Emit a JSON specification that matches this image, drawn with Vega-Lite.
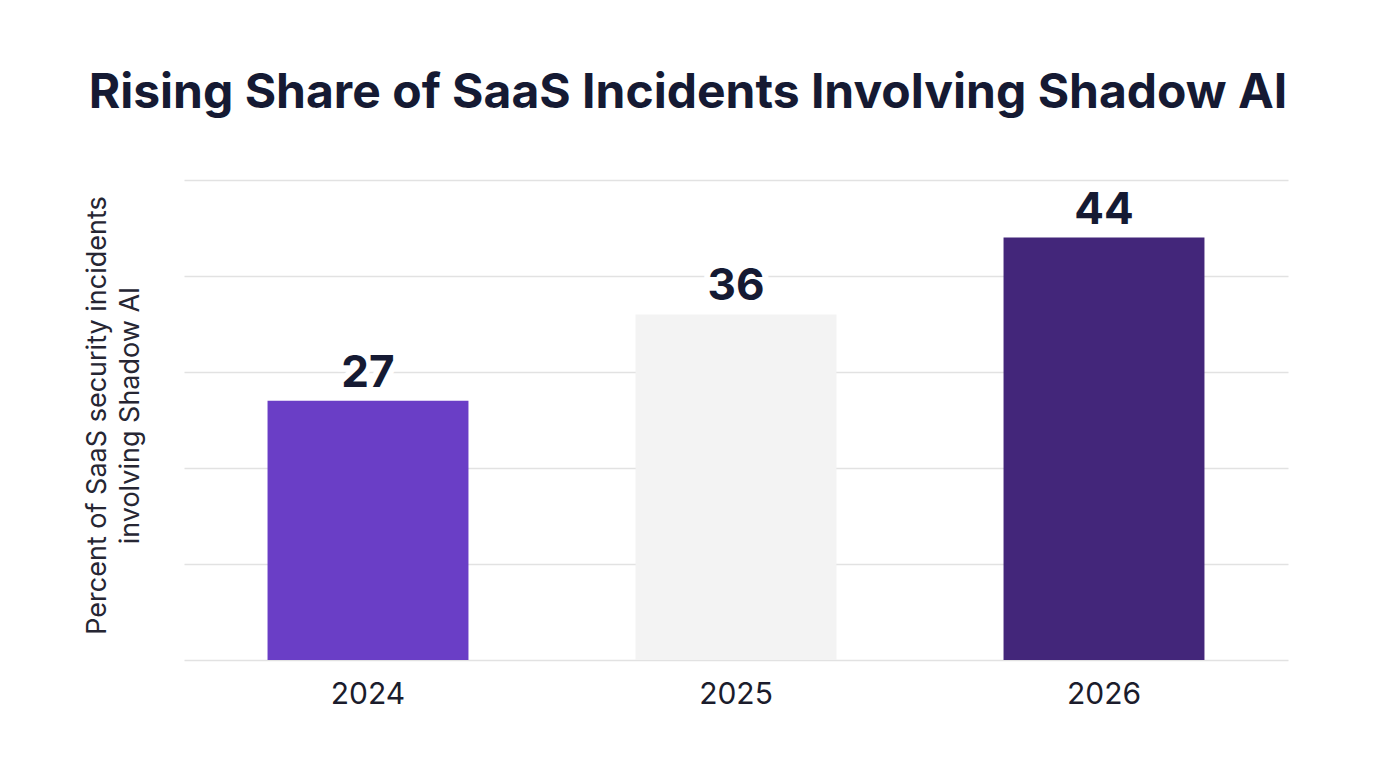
{
  "$schema": "https://vega.github.io/schema/vega-lite/v6.json",
  "width": 1104,
  "height": 480,
  "autosize": {"type": "none"},
  "padding": {"left": 184, "top": 180, "right": 88, "bottom": 108},
  "background": "white",
  "view": {"stroke": null},
  "title": {
    "text": "Rising Share of SaaS Incidents Involving Shadow AI",
    "font": "Inter",
    "fontSize": 48,
    "fontWeight": "bold",
    "color": "#151a33",
    "anchor": "middle",
    "dx": -48,
    "offset": 62
  },
  "data": {
    "values": [
      {"year": "2024", "share": 27},
      {"year": "2025", "share": 36},
      {"year": "2026", "share": 44}
    ]
  },
  "encoding": {
    "x": {
      "field": "year",
      "type": "ordinal",
      "scale": {"paddingInner": 0.454, "paddingOuter": 0.227},
      "axis": {
        "title": null,
        "labelAngle": 0,
        "labelFont": "Inter",
        "labelFontSize": 30,
        "labelColor": "#1b1c2c",
        "labelPadding": 19,
        "ticks": false,
        "domain": false,
        "grid": false
      }
    },
    "y": {
      "field": "share",
      "type": "quantitative",
      "scale": {"domain": [0, 50]},
      "axis": {
        "title": ["Percent of SaaS security incidents", "involving Shadow AI"],
        "titleFont": "Inter",
        "titleFontSize": 27,
        "titleFontWeight": "normal",
        "titleColor": "#262633",
        "titleLineHeight": 33,
        "titleAngle": -90,
        "titleAlign": "center",
        "titleBaseline": "middle",
        "titleX": -87,
        "titleY": 235,
        "values": [0, 10, 20, 30, 40, 50],
        "labels": false,
        "ticks": false,
        "domain": false,
        "grid": true,
        "gridColor": "#e2e2e2",
        "gridWidth": 1.5
      }
    }
  },
  "layer": [
    {
      "mark": {"type": "bar"},
      "encoding": {
        "color": {
          "field": "year",
          "type": "nominal",
          "scale": {"domain": ["2024", "2025", "2026"], "range": ["#6a3ec6", "#f3f3f3", "#43267a"]},
          "legend": null
        }
      }
    },
    {
      "mark": {
        "type": "text",
        "font": "Inter",
        "fontSize": 44,
        "fontWeight": "bold",
        "baseline": "alphabetic",
        "dy": -14,
        "stroke": "white",
        "strokeWidth": 12,
        "fill": "white"
      },
      "encoding": {"text": {"field": "share", "type": "quantitative"}}
    },
    {
      "mark": {
        "type": "text",
        "font": "Inter",
        "fontSize": 44,
        "fontWeight": "bold",
        "baseline": "alphabetic",
        "dy": -14,
        "color": "#151a33"
      },
      "encoding": {"text": {"field": "share", "type": "quantitative"}}
    }
  ]
}
